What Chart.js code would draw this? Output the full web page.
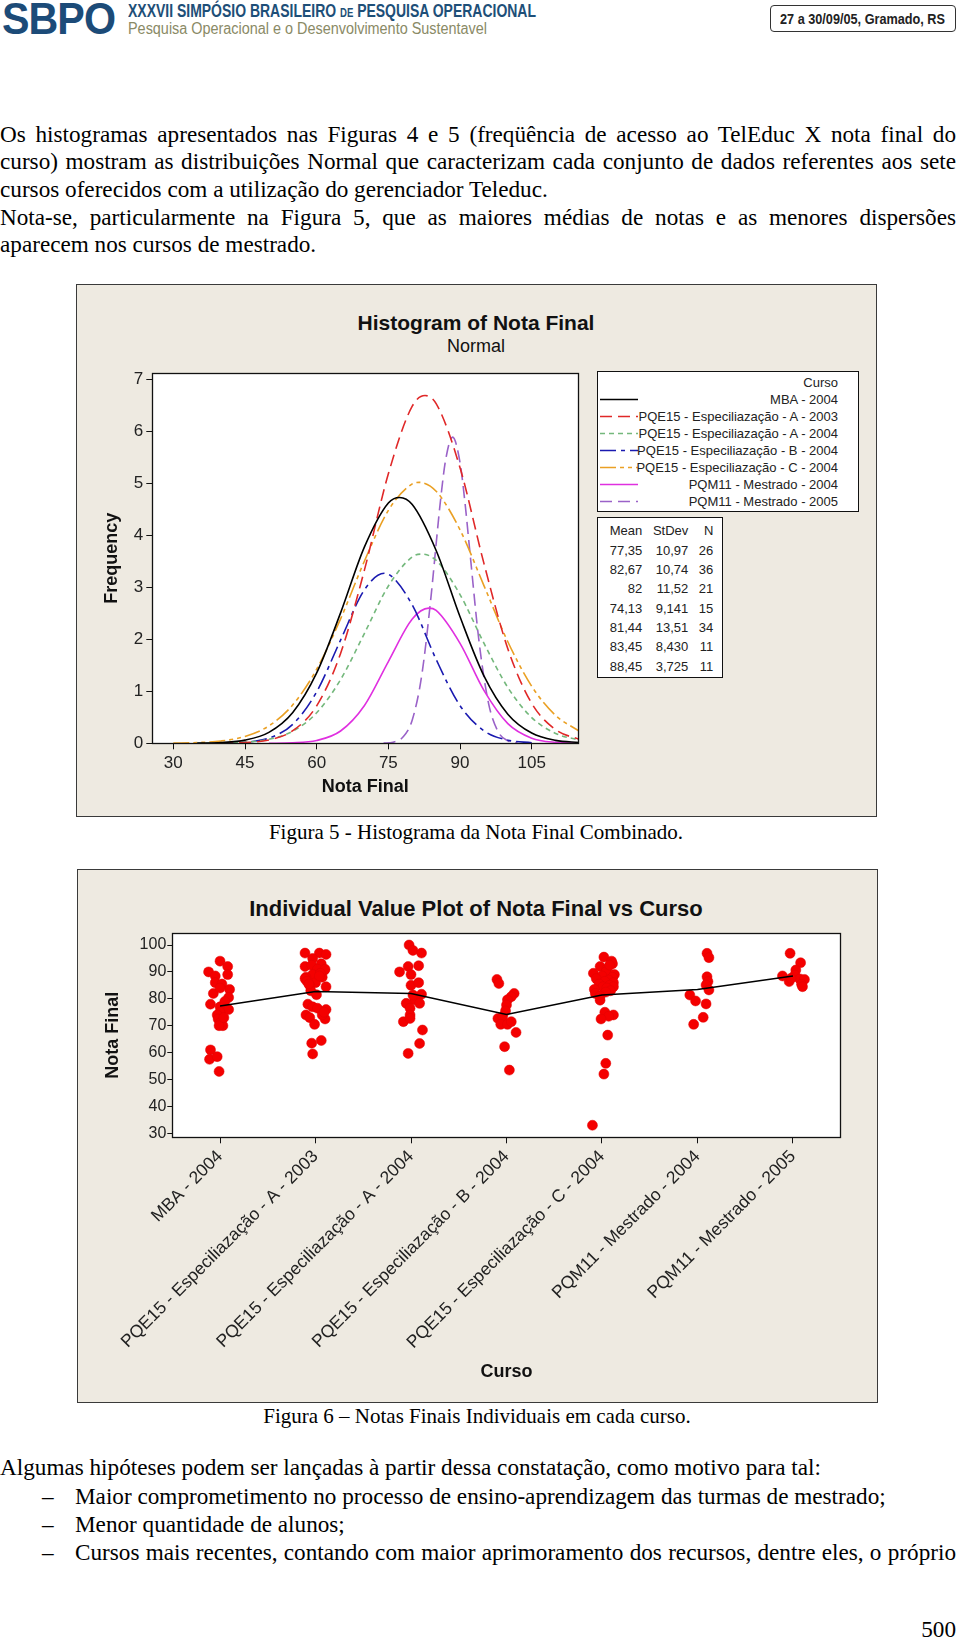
<!DOCTYPE html>
<html><head><meta charset="utf-8">
<script src="https://cdn.jsdelivr.net/npm/chart.js@4.4.0/dist/chart.umd.min.js"></script>
<style>
body{margin:0;width:960px;height:1641px;position:relative;background:#fff;overflow:hidden;font-family:'Liberation Sans',Arial,sans-serif}
.abs{position:absolute}
.ln{position:absolute;font-family:'Liberation Serif','Times New Roman',serif;font-size:23.2px;line-height:28px;color:#000;white-space:nowrap}
.j{text-align:justify;text-align-last:justify;white-space:normal}
.cap{position:absolute;left:0;width:952px;text-align:center;font-family:'Liberation Serif','Times New Roman',serif;font-size:21px;line-height:24px;color:#000}
.fig{position:absolute;background:#EEEAE1;border:1px solid #3a3a3a;box-sizing:border-box}
.leg{position:absolute;font-size:13px;line-height:17px;color:#222;text-align:right;white-space:nowrap}
.tb{position:absolute;font-size:13px;line-height:19px;color:#222;text-align:right;white-space:nowrap}
.ttl{position:absolute;left:0;width:952px;text-align:center;color:#111;white-space:nowrap}
</style></head>
<body>
<!-- header -->
<div class="abs fitw" data-w="113" style="left:2px;top:0;font:bold 44px 'Liberation Sans';line-height:37px;color:#1c4b78;letter-spacing:-1px">SBPO</div>
<div class="abs fitw" data-w="408" style="left:128px;top:1px;font:bold 19px 'Liberation Sans';line-height:20px;color:#1e4f78;white-space:nowrap">XXXVII SIMPÓSIO BRASILEIRO <span style="font-size:13px">DE</span> PESQUISA OPERACIONAL</div>
<div class="abs fitw" data-w="359" style="left:128px;top:20px;font:16px 'Liberation Sans';line-height:18px;color:#8a8a66;white-space:nowrap">Pesquisa Operacional e o Desenvolvimento Sustentavel</div>
<div class="abs" style="left:770px;top:5px;width:186px;height:27px;border:1px solid #333;border-radius:4px;box-sizing:border-box;"></div>
<div class="abs fitw" data-w="165" style="left:780px;top:10px;font:bold 15px 'Liberation Sans';line-height:18px;color:#222;white-space:nowrap">27 a 30/09/05, Gramado, RS</div>

<!-- paragraph -->
<div class="ln j" style="left:0;top:119.5px;width:956px">Os histogramas apresentados nas Figuras 4 e 5 (freqüência de acesso ao TelEduc X nota final do</div>
<div class="ln j" style="left:0;top:147.2px;width:956px">curso) mostram as distribuições Normal que caracterizam cada conjunto de dados referentes aos sete</div>
<div class="ln" style="left:0;top:174.9px">cursos oferecidos com a utilização do gerenciador Teleduc.</div>
<div class="ln j" style="left:0;top:202.6px;width:956px">Nota-se, particularmente na Figura 5, que as maiores médias de notas e as menores dispersões</div>
<div class="ln" style="left:0;top:230.3px">aparecem nos cursos de mestrado.</div>

<!-- figure 5 -->
<div class="fig" style="left:76px;top:284px;width:801px;height:533px"></div>
<div class="ttl" style="top:310.7px;font:bold 21px 'Liberation Sans';line-height:24px">Histogram of Nota Final</div>
<div class="ttl" style="top:335.7px;font:18px 'Liberation Sans';line-height:20px">Normal</div>
<canvas id="c1" width="500" height="440" style="position:absolute;left:90px;top:360px;width:500px;height:440px"></canvas>
<div id="legend" class="abs" style="left:597px;top:371px;width:262px;height:141px;border:1px solid #111;box-sizing:border-box;background:#fff"></div>
<div id="stats" class="abs" style="left:597px;top:517px;width:126px;height:161px;border:1px solid #111;box-sizing:border-box;background:#fff"></div>
<div class="cap" style="top:820px">Figura 5 - Histograma da Nota Final Combinado.</div>

<!-- figure 6 -->
<div class="fig" style="left:76.5px;top:869px;width:801px;height:534px"></div>
<div class="ttl" style="top:896.3px;font:bold 22px 'Liberation Sans';line-height:26px">Individual Value Plot of Nota Final vs Curso</div>
<canvas id="c2" width="775" height="480" style="position:absolute;left:102px;top:920px;width:775px;height:480px"></canvas>
<div class="cap" style="top:1404px;left:1px">Figura 6 – Notas Finais Individuais em cada curso.</div>

<!-- bottom text -->
<div class="ln" style="left:0;top:1452.5px">Algumas hipóteses podem ser lançadas à partir dessa constatação, como motivo para tal:</div>
<div class="ln" style="left:42px;top:1481.5px">–</div>
<div class="ln" style="left:75px;top:1481.5px">Maior comprometimento no processo de ensino-aprendizagem das turmas de mestrado;</div>
<div class="ln" style="left:42px;top:1510px">–</div>
<div class="ln" style="left:75px;top:1510px">Menor quantidade de alunos;</div>
<div class="ln" style="left:42px;top:1538px">–</div>
<div class="ln j" style="left:75px;top:1538px;width:881px">Cursos mais recentes, contando com maior aprimoramento dos recursos, dentre eles, o próprio</div>
<div class="ln" style="right:4px;top:1614.5px">500</div>

<script>
// ---------- data ----------
const cursos = ['MBA - 2004','PQE15 - Especiliazação - A - 2003','PQE15 - Especiliazação - A - 2004','PQE15 - Especiliazação - B - 2004','PQE15 - Especiliazação - C - 2004','PQM11 - Mestrado - 2004','PQM11 - Mestrado - 2005'];
const means  = [77.35, 82.67, 82, 74.13, 81.44, 83.45, 88.45];
const stdevs = [10.97, 10.74, 11.52, 9.141, 13.51, 8.430, 3.725];
const ns     = [26, 36, 21, 15, 34, 11, 11];

const histXTicks = [30, 45, 60, 75, 90, 105];
const histYTicks = [0, 1, 2, 3, 4, 5, 6, 7];
const dotYTicks  = [30, 40, 50, 60, 70, 80, 90, 100];

const mbaX = [35,40,45,50,55,60,65,70,75,77.35,80,85,90,95,100,105,110,115];
const mbaY = [0.003,0.014,0.061,0.211,0.594,1.354,2.509,3.779,4.623,4.73,4.594,3.710,2.433,1.297,0.561,0.197,0.056,0.013];
const a03X = [40,45,50,55,60,65,70,75,80,82.67,85,90,95,100,105,110,115];
const a03Y = [0.003,0.014,0.065,0.242,0.721,1.729,3.336,5.184,6.486,6.69,6.535,5.300,3.461,1.820,0.769,0.262,0.072];
const a04X = [35,40,45,50,55,60,65,70,75,80,82,85,90,95,100,105,110,115];
const a04Y = [0.001,0.005,0.021,0.077,0.233,0.588,1.225,2.116,3.026,3.585,3.64,3.519,2.860,1.926,1.074,0.495,0.190,0.060];
const b04X = [40,45,50,55,60,65,70,74.13,75,80,85,90,95,100,105];
const b04Y = [0.003,0.020,0.100,0.366,0.990,1.986,2.953,3.27,3.255,2.661,1.613,0.725,0.241,0.060,0.011];
const c04X = [30,35,40,45,50,55,60,65,70,75,80,81.44,85,90,95,100,105,110,115];
const c04Y = [0.004,0.014,0.045,0.132,0.335,0.740,1.425,2.394,3.507,4.481,4.991,5.02,4.849,4.107,3.034,1.954,1.097,0.537,0.229];
const m04X = [50,55,60,65,70,75,80,83.45,85,90,95,100,105,110,115];
const m04Y = [0.001,0.009,0.054,0.237,0.728,1.573,2.391,2.60,2.556,1.923,1.017,0.379,0.099,0.018,0.002];
const m05X = [74,76,78,80,82,84,85,86,87,88.45,90,91,92,94,96,98,100,102];
const m05Y = [0.003,0.022,0.115,0.449,1.315,2.885,3.836,4.745,5.46,5.89,5.40,4.66,3.740,1.941,0.755,0.220,0.048,0.008];

const notasMBA04 = [90,88.5,94,92,89,86,85.5,83.5,82,84,80.5,78,77,76,75,74,72.5,71,70,70,61,57.5,58.5,53,79,73];
const jitMBA04   = [-0.12,-0.05,0,0.08,0.08,-0.05,0.02,0.10,-0.07,0,0.09,-0.10,0,0.09,0,-0.03,-0.02,0,0.03,-0.01,-0.10,-0.11,-0.03,-0.01,0.05,0.04];
const notasA03 = [97,97,96.5,95,92,92.5,93,90.5,91,89,88,87.5,86.5,86,85,84.5,83,88,91,89.5,78,77,76.5,76,74,73,72.5,70.5,74,75,63.5,64.5,59.5,81.5,88.5,85.5];
const jitA03   = [-0.11,0.04,0.11,-0.03,-0.11,-0.04,0.06,0.09,0.02,-0.03,-0.10,-0.11,-0.09,0,-0.06,0.11,-0.05,0.07,0.10,0.05,-0.08,-0.03,0.02,0.11,-0.10,-0.06,0.10,-0.01,0.07,0.09,-0.04,0.06,-0.03,0.01,0.04,-0.07];
const notasA04 = [100,98,97,90,92,92.3,89,85,86,81.7,79.6,78.3,78.3,76.5,74,71.5,72.7,68.4,63.4,59.7,81.4];
const jitA04   = [-0.02,0.02,0.11,-0.12,-0.03,0.08,0,0,0.08,0.11,0.04,-0.05,0.09,-0.01,-0.01,-0.08,-0.01,0.12,0.09,-0.03,0.02];
const notasB04 = [87.2,85.7,82,80.8,79.6,77.7,72.7,73.4,70.5,70.5,67.5,62.2,53.5,75.5,71.5];
const jitB04   = [-0.10,-0.08,0.08,0.05,0.01,0,-0.09,-0.04,-0.06,0.01,0.10,-0.02,0.03,-0.01,0.05];
const notasC04 = [95.5,94,93,92,91,90,89.5,89,88.5,88,87.5,87,86.5,86,85.5,85,84.5,84.5,84,83.5,83,82.5,82,81,79.5,75,74,73.5,72.5,66.5,56,52,33,92.5];
const jitC04   = [0.02,0.10,0.11,-0.02,0.05,0.04,-0.09,0.13,0,0.11,-0.06,0.07,0.03,0.12,-0.03,0.08,0.01,0.12,0.05,-0.08,0.09,0.04,-0.07,-0.02,-0.02,0.03,0.12,0.07,-0.01,0.06,0.04,0.02,-0.10,0.08];
const notasM04 = [96.9,95.3,88.2,86.4,85.1,83.3,81.4,79.2,78.1,73.1,70.5];
const jitM04   = [0.10,0.12,0.10,0.11,0.09,0.12,-0.08,-0.02,0.09,0.06,-0.04];
const notasM05 = [96.9,93.4,88.5,90.7,88.8,86.4,87.4,87.2,85.4,84.5,87.6];
const jitM05   = [-0.03,0.08,-0.11,0.03,0.02,-0.04,0.07,0.12,0.09,0.10,-0.02];

// ---------- styles ----------
const curveColors = ['#000000','#e02828','#74b87c','#1a1ab0','#eaa024','#e030e0','#9a62c8'];
const curveDash = [[],[12,6],[5,4],[16,5,4,5],[16,4,4,4,4,4],[],[12,6]];
const FONT = "'Liberation Sans', Arial, sans-serif";
Chart.defaults.font.family = FONT;
Chart.defaults.color = '#222';

// width fit for header text
document.querySelectorAll('.fitw').forEach(el => {
  const w = el.getBoundingClientRect().width;
  el.style.transformOrigin = 'left top';
  el.style.transform = 'scaleX(' + (parseFloat(el.dataset.w) / w) + ')';
});

const boxPlugin = {
  id: 'plotbox',
  beforeDraw(c) {
    const a = c.chartArea, x = c.ctx;
    x.save(); x.fillStyle = '#fff'; x.fillRect(a.left, a.top, a.width, a.height); x.restore();
  },
  afterDraw(c) {
    const a = c.chartArea, x = c.ctx;
    x.save(); x.strokeStyle = '#111'; x.lineWidth = 1.3;
    x.strokeRect(Math.round(a.left) + 0.5, Math.round(a.top) + 0.5, Math.round(a.width), Math.round(a.height));
    x.restore();
  }
};

// ---------- chart 1: histogram normal fits ----------
const curvesX = [mbaX, a03X, a04X, b04X, c04X, m04X, m05X];
const curvesY = [mbaY, a03Y, a04Y, b04Y, c04Y, m04Y, m05Y];
new Chart(document.getElementById('c1'), {
  type: 'scatter',
  data: {
    datasets: curvesX.map((xs, i) => ({
      label: cursos[i],
      data: xs.map((x, j) => ({x: x, y: curvesY[i][j]})),
      showLine: true, fill: false, pointRadius: 0,
      borderColor: curveColors[i], borderWidth: 1.6, borderDash: curveDash[i],
      cubicInterpolationMode: 'monotone'
    }))
  },
  options: {
    responsive: false, animation: false, events: [],
    layout: {padding: {top: 11, right: 11.7, left: 0, bottom: 0}},
    plugins: {legend: {display: false}, tooltip: {enabled: false}},
    scales: {
      x: {
        type: 'linear', min: 25.6, max: 114.75,
        afterBuildTicks: s => { s.ticks = histXTicks.map(v => ({value: v})); },
        afterFit: s => { s.height = 56.7; },
        grid: {drawOnChartArea: false, drawTicks: true, tickLength: 6, color: '#111'},
        border: {display: true, color: '#111'},
        ticks: {font: {size: 17}, color: '#222', padding: 4, maxRotation: 0, autoSkip: false},
        title: {display: true, text: 'Nota Final', color: '#111', font: {size: 18, weight: 'bold'}, padding: {top: 0, bottom: 2.5}}
      },
      y: {
        type: 'linear', min: 0, max: 7.12,
        afterBuildTicks: s => { s.ticks = histYTicks.map(v => ({value: v})); },
        afterFit: s => { s.width = 62.3; },
        grid: {drawOnChartArea: false, drawTicks: true, tickLength: 6, color: '#111'},
        border: {display: true, color: '#111'},
        ticks: {font: {size: 17}, color: '#222', padding: 3, autoSkip: false},
        title: {display: true, text: 'Frequency', color: '#111', font: {size: 18, weight: 'bold'}, padding: {top: 10.9, bottom: 0}}
      }
    }
  },
  plugins: [boxPlugin]
});

// legend box
(function () {
  const leg = document.getElementById('legend');
  let h = '<div class="leg" style="right:20px;top:2.2px">Curso</div>';
  cursos.forEach((c, i) => {
    const top = 18.8 + 17 * i;
    h += '<svg style="position:absolute;left:2px;top:' + top + 'px" width="40" height="17"><line x1="0" y1="8.5" x2="38" y2="8.5" stroke="' + curveColors[i] + '" stroke-width="1.6" stroke-dasharray="' + (curveDash[i].length ? curveDash[i].join(' ') : 'none') + '"/></svg>';
    h += '<div class="leg" style="right:20px;top:' + top + 'px">' + c + '</div>';
  });
  leg.innerHTML = h;
  const st = document.getElementById('stats');
  const fmt = s => s.replace('.', ',');
  const col = (txt, right, top) => '<div class="tb" style="left:0;width:' + right + 'px;top:' + top + 'px">' + txt + '</div>';
  let t = col('Mean', 44.3, 3.2) + col('StDev', 90.3, 3.2) + col('N', 115.3, 3.2);
  means.forEach((m, i) => {
    const top = 22.8 + 19.3 * i;
    t += col(fmt(String(parseFloat(m.toPrecision(4)))), 44.3, top);
    t += col(fmt(stdevs[i].toPrecision(4)), 90.3, top);
    t += col(String(ns[i]), 115.3, top);
  });
  st.innerHTML = t;
})();

// ---------- chart 2: individual value plot ----------
const notas = [notasMBA04, notasA03, notasA04, notasB04, notasC04, notasM04, notasM05];
const jits  = [jitMBA04, jitA03, jitA04, jitB04, jitC04, jitM04, jitM05];
const dots = [];
notas.forEach((arr, i) => arr.forEach((v, j) => dots.push({x: i + 1 + jits[i][j], y: v})));
new Chart(document.getElementById('c2'), {
  type: 'scatter',
  data: {
    datasets: [
      {label: 'Mean', data: means.map((m, i) => ({x: i + 1, y: m})), showLine: true, pointRadius: 0,
       borderColor: '#000', borderWidth: 1.5, order: 0},
      {label: 'Nota Final', data: dots, pointRadius: 5, backgroundColor: '#f40000', borderColor: '#e00000', borderWidth: 0.5, order: 1}
    ]
  },
  options: {
    responsive: false, animation: false, events: [],
    layout: {padding: {top: 13.3, right: 36.3, left: 0, bottom: 0}},
    plugins: {legend: {display: false}, tooltip: {enabled: false}},
    scales: {
      x: {
        type: 'linear', min: 0.5, max: 7.5,
        afterBuildTicks: s => { s.ticks = cursos.map((c, i) => ({value: i + 1})); },
        afterFit: s => { s.height = 262.7; },
        grid: {drawOnChartArea: false, drawTicks: true, tickLength: 6, color: '#111'},
        border: {display: true, color: '#111'},
        ticks: {font: {size: 17.5}, color: '#222', padding: 3, minRotation: 45, maxRotation: 45, autoSkip: false,
                callback: (v, i) => cursos[i]},
        title: {display: true, text: 'Curso', color: '#111', font: {size: 18, weight: 'bold'}, padding: {top: 0, bottom: 17}}
      },
      y: {
        type: 'linear', min: 28.51, max: 104.35,
        afterBuildTicks: s => { s.ticks = dotYTicks.map(v => ({value: v})); },
        afterFit: s => { s.width = 70.3; },
        grid: {drawOnChartArea: false, drawTicks: true, tickLength: 5, color: '#111'},
        border: {display: true, color: '#111'},
        ticks: {font: {size: 16}, color: '#222', padding: 1, autoSkip: false},
        title: {display: true, text: 'Nota Final', color: '#111', font: {size: 18, weight: 'bold'}, padding: {top: 0, bottom: 0}}
      }
    }
  },
  plugins: [boxPlugin]
});
</script>
</body></html>
